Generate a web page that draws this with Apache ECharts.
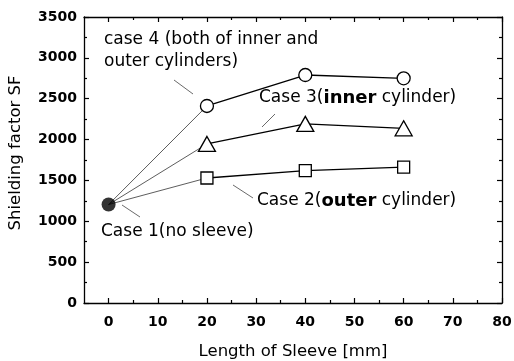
<!DOCTYPE html>
<html>
<head>
<meta charset="utf-8">
<script src="https://cdn.jsdelivr.net/npm/echarts@6/dist/echarts.min.js"></script>
<style>html,body{margin:0;padding:0;background:#fff}#c{width:514px;height:361px}</style>
</head>
<body>
<div id="c"></div>
<script>
// Data
var sleeveLengths = [20, 40, 60];
var case1 = [0, 1205];
var case2 = [1530, 1621, 1662];
var case3 = [1947, 2192, 2138];
var case4 = [2411, 2790, 2750];
var xMajorTicks = [0, 10, 20, 30, 40, 50, 60, 70, 80];
var xMinorTicks = [5, 15, 25, 35, 45, 55, 65, 75];

var FONT = 'DejaVu Sans';
function pairs(vals) { return sleeveLengths.map(function (x, i) { return [x, vals[i]]; }); }
function fan(vals) { return [case1, [sleeveLengths[0], vals[0]]]; }

var chart = echarts.init(document.getElementById('c'), null, { renderer: 'canvas' });

function xAx(pos, ticks, len, labels, line) {
  return {
    type: 'value', position: pos, min: -5, max: 80, interval: 5,
    axisLine: { show: line, onZero: false, lineStyle: { color: '#000', width: 1.3 } },
    axisTick: { show: true, inside: true, length: len, customValues: ticks, lineStyle: { color: '#000', width: 1.2 } },
    axisLabel: labels ? { show: true, customValues: xMajorTicks, color: '#000', fontFamily: FONT, fontWeight: 'bold', fontSize: 14, margin: 12, formatter: function (v) { return String(v); } } : { show: false },
    splitLine: { show: false },
    name: labels ? 'Length of Sleeve [mm]' : '',
    nameLocation: 'middle', nameGap: 40,
    nameTextStyle: { color: '#000', fontFamily: FONT, fontSize: 16.5 }
  };
}
function yAx(pos, labels) {
  return {
    type: 'value', position: pos, min: 0, max: 3500, interval: 500,
    axisLine: { show: true, onZero: false, lineStyle: { color: '#000', width: 1.3 } },
    axisTick: { show: true, inside: true, length: 5, lineStyle: { color: '#000', width: 1.2 } },
    minorTick: { show: true, splitNumber: 2, length: 3, lineStyle: { color: '#000', width: 1.2 } },
    axisLabel: labels ? { show: true, color: '#000', fontFamily: FONT, fontWeight: 'bold', fontSize: 14, margin: 7, formatter: function (v) { return String(v); } } : { show: false },
    splitLine: { show: false },
    name: labels ? 'Shielding factor SF' : '',
    nameLocation: 'middle', nameGap: 60,
    nameTextStyle: { color: '#000', fontFamily: FONT, fontSize: 16.5, padding: [0, 0, 0, 14] }
  };
}

function mainSeries(vals, symbol, size) {
  return {
    type: 'line', xAxisIndex: 0, yAxisIndex: 0, data: pairs(vals),
    symbol: symbol, symbolSize: size, showSymbol: true,
    lineStyle: { color: '#000', width: 1.3 },
    itemStyle: { color: '#fff', borderColor: '#000', borderWidth: 1.3 },
    z: 3, animation: false
  };
}
function fanSeries(vals) {
  return {
    type: 'line', xAxisIndex: 0, yAxisIndex: 0, data: fan(vals), showSymbol: false, symbol: 'none',
    lineStyle: { color: '#333', width: 0.8 }, z: 2, animation: false
  };
}

var TS = { fontFamily: FONT, fontSize: 17, fill: '#000' };
function lead(x1, y1, x2, y2) {
  return { type: 'line', z: 10, shape: { x1: x1, y1: y1, x2: x2, y2: y2 }, style: { stroke: '#444', lineWidth: 0.8 } };
}
var richBold = { b: { fontFamily: FONT, fontSize: 18, fontWeight: 'bold', fill: '#000' }, n: { fontFamily: FONT, fontSize: 17, fill: '#000' } };

chart.setOption({
  animation: false,
  backgroundColor: '#fff',
  grid: { left: 84, right: 12, top: 17, bottom: 58, containLabel: false, outerBoundsMode: 'none' },
  xAxis: [xAx('bottom', xMajorTicks, 5, true, true), xAx('top', xMajorTicks, 5, false, true),
          xAx('bottom', xMinorTicks, 3, false, false), xAx('top', xMinorTicks, 3, false, false)],
  yAxis: [yAx('left', true), yAx('right', false)],
  series: [
    fanSeries(case2), fanSeries(case3), fanSeries(case4),
    mainSeries(case2, 'rect', 12), mainSeries(case3, 'triangle', [17, 15]), mainSeries(case4, 'circle', 13),
    { type: 'scatter', xAxisIndex: 0, yAxisIndex: 0, data: [case1], symbol: 'circle', symbolSize: 14,
      itemStyle: { color: '#000' }, z: 4, animation: false }
  ],
  graphic: [
    { type: 'text', left: 104, top: 29, z: 10, style: Object.assign({ text: 'case 4 (both of inner and\nouter cylinders)', lineHeight: 22 }, TS) },
    lead(174, 80, 193, 94),
    { type: 'text', left: 259, top: 89, z: 10, style: { text: '{n|Case 3(}{b|inner}{n| cylinder)}', rich: richBold, fontFamily: FONT, fontSize: 17 } },
    lead(275, 114, 262, 127),
    { type: 'text', left: 257, top: 192, z: 10, style: { text: '{n|Case 2(}{b|outer}{n| cylinder)}', rich: richBold, fontFamily: FONT, fontSize: 17 } },
    lead(233, 185, 253, 198),
    { type: 'text', left: 101, top: 223, z: 10, style: Object.assign({ text: 'Case 1(no sleeve)' }, TS) },
    lead(122, 205, 140, 217)
  ]
});
</script>
</body>
</html>
